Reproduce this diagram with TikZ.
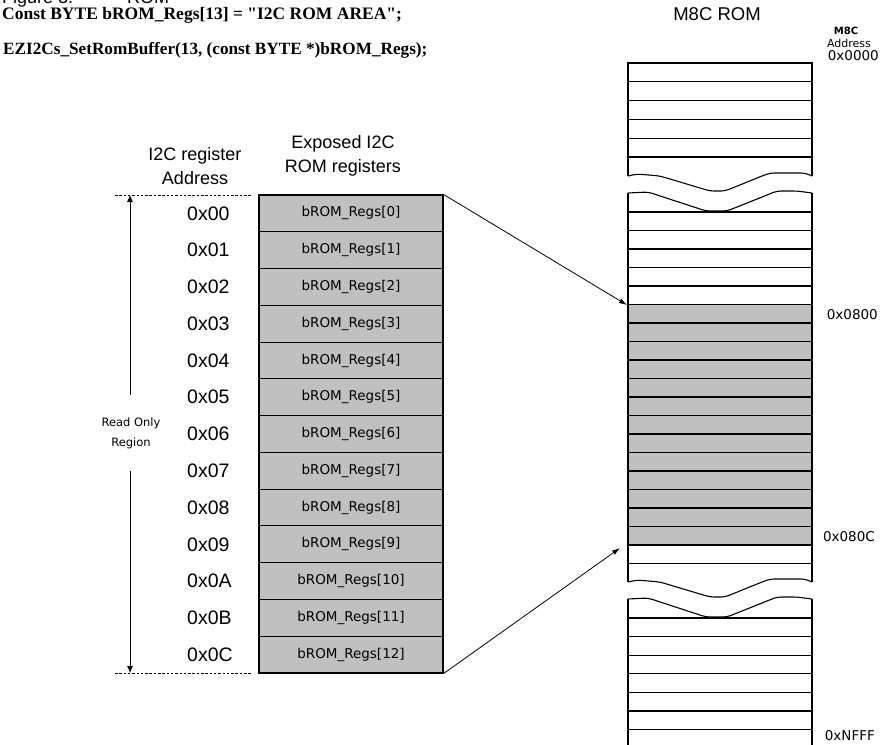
\documentclass[tikz,border=0pt]{standalone}
\usepackage{fontspec}
\setmainfont{Liberation Sans}
\newfontfamily\codefont{Liberation Serif}
\newfontfamily\lblfont{DejaVu Sans}
\usetikzlibrary{arrows.meta}
\definecolor{regfill}{HTML}{C0C0C0}
\newcommand\upwave[1]{(628,#1) -- (637,{#1-2}) -- (660,#1) -- (710,{#1+15}) -- (725,{#1+15}) -- (762,#1) -- (770,{#1-3}) -- (805,{#1-3}) -- (812,#1)}
\newcommand\lowwave[1]{(628,#1) -- (648,{#1-1}) -- (706,{#1+18}) -- (727,{#1+18}) -- (777,{#1-2}) -- (797,{#1-2}) -- (812,#1)}
\begin{document}
\begin{tikzpicture}[x=1pt,y=-1pt,
  reg/.style={draw=black, line width=1.1pt, fill=regfill, minimum width=184pt, minimum height=36.77pt, inner sep=0pt, font=\lblfont\fontsize{13.5}{14}\selectfont},
  addr/.style={font=\fontsize{19.5}{20}\selectfont, anchor=west, inner sep=0pt},
  hdr/.style={font=\fontsize{18}{24}\selectfont, align=center, inner sep=0pt},
  romlbl/.style={font=\lblfont\fontsize{13.5}{14}\selectfont, anchor=east, inner sep=0pt},
  romline/.style={line width=1.1pt},
  codetxt/.style={font=\codefont\bfseries\fontsize{17.5}{18}\selectfont, anchor=west, inner sep=0pt},
  link/.style={-{Latex[length=8pt,width=5pt]}, line width=0.8pt},
  vlink/.style={-{Latex[length=7pt,width=6pt]}, line width=0.9pt},
  limit/.style={line width=0.9pt, dash pattern=on 2.5pt off 1.8pt}
]
\useasboundingbox (0,0) rectangle (882,744);
\clip (0,0) rectangle (882,744);
\fill[white] (0,0) rectangle (882,744);

% partially visible caption (cut by the top edge)
\node[font=\fontsize{18}{18}\selectfont, anchor=base west, inner sep=0pt] (fig) at (2,3) {Figure 3.};
\node[font=\fontsize{18}{18}\selectfont, anchor=base west, inner sep=0pt] (figrom) at (127,3) {ROM};

% code lines
\node[codetxt] (code1) at (2,15) {Const BYTE bROM\_Regs[13] = "I2C ROM AREA";};
\node[codetxt, font=\codefont\bfseries\fontsize{17.2}{18}\selectfont] (code2) at (3,50) {EZI2Cs\_SetRomBuffer(13, (const BYTE *)bROM\_Regs);};

% headers
\node[hdr] (hdraddr) at (195,166) {I2C register\\Address};
\node[hdr] (hdrreg) at (343,156) {Exposed I2C\\ROM registers};
\node[font=\fontsize{18.5}{19}\selectfont, inner sep=0pt] (romtitle) at (717,14) {M8C ROM};
\node[font=\lblfont\bfseries\fontsize{10}{11}\selectfont, inner sep=0pt] (m8c) at (846,31) {M8C};
\node[font=\lblfont\fontsize{11}{12}\selectfont, inner sep=0pt] (m8caddr) at (849,43) {Address};

% registers and addresses
\foreach \i/\h in {0/00,1/01,2/02,3/03,4/04,5/05,6/06,7/07,8/08,9/09,10/0A,11/0B,12/0C}{
  \node[reg] (r\i) at (351,{195+36.77*(\i+0.5)}) {bROM\_Regs[\i]};
  \node[addr] (a\i) at (187,{195+36.77*(\i+0.5)}) {0x\h};
}
\draw[line width=1.6pt] (r0.north west) rectangle (r12.south east);

% read only region
\coordinate (dtl) at (115,195);
\coordinate (dtr) at (252,195);
\coordinate (dbl) at (115,673);
\coordinate (dbr) at (252,673);
\draw[limit] (dtl) -- (dtr);
\draw[limit] (dbl) -- (dbr);
\coordinate (vtop) at (130,195);
\coordinate (vbot) at (130,673);
\node[font=\lblfont\fontsize{11.5}{20}\selectfont, align=center, inner sep=0pt, minimum height=76pt] (ro) at (131,433) {Read Only\\Region};
\draw[vlink] (ro.north -| vtop) -- (vtop);
\draw[vlink] (ro.south -| vbot) -- (vbot);

% ROM: top piece
\draw[romline] (628,176) -- (628,63) -- (812,63) -- (812,176);
\draw[romline, rounded corners=4pt] \upwave{176};
\foreach \k in {1,...,5}{
  \draw[romline] (628,{63+18.8*\k}) -- (812,{63+18.8*\k});
}

% ROM: middle piece
\fill[regfill] (628,304.5) rectangle (812,545);
\draw[romline, rounded corners=4pt] \lowwave{193};
\draw[romline] (628,193) -- (628,582);
\draw[romline] (812,193) -- (812,582);
\draw[romline, rounded corners=4pt] \upwave{582};
\foreach \k in {0,...,19}{
  \draw[romline] (628,{212+18.5*\k}) -- (812,{212+18.5*\k});
}

% ROM: bottom piece
\draw[romline, rounded corners=4pt] \lowwave{599};
\draw[romline] (628,599) -- (628,760);
\draw[romline] (812,599) -- (812,760);
\foreach \k in {0,...,7}{
  \draw[romline] (628,{618+18.6*\k}) -- (812,{618+18.6*\k});
}

% ROM labels
\node[romlbl] (l0000) at (879,56) {0x0000};
\node[romlbl] (l0800) at (878,315) {0x0800};
\node[romlbl] (l080C) at (875,537) {0x080C};
\node[romlbl] (lNFFF) at (875,736) {0xNFFF};

% mapping arrows
\coordinate (romA) at (627,305);
\coordinate (romB) at (620,548);
\draw[link] (r0.north east) -- (romA);
\draw[link] (r12.south east) -- (romB);
\end{tikzpicture}
\end{document}
